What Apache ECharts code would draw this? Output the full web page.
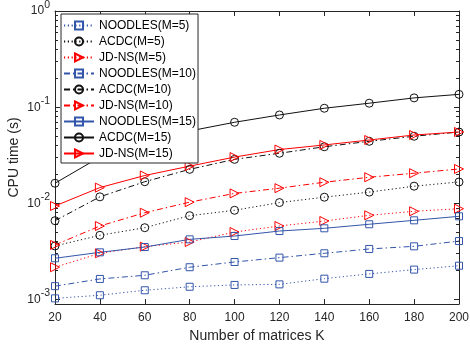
<!DOCTYPE html>
<html><head><meta charset="utf-8">
<script src="https://cdn.jsdelivr.net/npm/echarts@6/dist/echarts.min.js"></script>
<style>html,body{margin:0;padding:0;background:#fff}#c{width:470px;height:351px}</style>
</head><body><div id="c"></div>
<script>
const K = [20, 40, 60, 80, 100, 120, 140, 160, 180, 200];
const noodles5  = [1.03e-3, 1.11e-3, 1.25e-3, 1.36e-3, 1.42e-3, 1.44e-3, 1.65e-3, 1.85e-3, 2.05e-3, 2.25e-3];
const acdc5     = [3.61e-3, 4.66e-3, 5.59e-3, 7.45e-3, 8.48e-3, 1.02e-2, 1.16e-2, 1.31e-2, 1.51e-2, 1.67e-2];
const jdns5     = [2.17e-3, 3.03e-3, 3.55e-3, 3.97e-3, 5.04e-3, 5.82e-3, 6.56e-3, 7.52e-3, 8.28e-3, 8.81e-3];
const noodles10 = [1.38e-3, 1.64e-3, 1.79e-3, 2.17e-3, 2.46e-3, 2.73e-3, 3.03e-3, 3.36e-3, 3.58e-3, 4.06e-3];
const acdc10    = [6.61e-3, 1.17e-2, 1.68e-2, 2.26e-2, 2.87e-2, 3.32e-2, 3.88e-2, 4.42e-2, 4.99e-2, 5.52e-2];
const jdns10    = [3.70e-3, 5.82e-3, 8.00e-3, 1.03e-2, 1.27e-2, 1.44e-2, 1.66e-2, 1.87e-2, 2.06e-2, 2.28e-2];
const noodles15 = [2.69e-3, 3.10e-3, 3.52e-3, 4.23e-3, 4.58e-3, 5.16e-3, 5.51e-3, 6.07e-3, 6.67e-3, 7.34e-3];
const acdc15    = [1.62e-2, 3.03e-2, 4.25e-2, 5.66e-2, 6.97e-2, 8.30e-2, 9.75e-2, 1.10e-1, 1.25e-1, 1.36e-1];
const jdns15    = [9.40e-3, 1.46e-2, 1.95e-2, 2.44e-2, 3.03e-2, 3.63e-2, 4.05e-2, 4.56e-2, 5.14e-2, 5.52e-2];

const names = ['NOODLES(M=5)', 'ACDC(M=5)', 'JD-NS(M=5)', 'NOODLES(M=10)', 'ACDC(M=10)', 'JD-NS(M=10)', 'NOODLES(M=15)', 'ACDC(M=15)', 'JD-NS(M=15)'];
const yMajorTicks = [0.001, 0.01, 0.1, 1];
const yMinorTicks = [0.002, 0.003, 0.004, 0.005, 0.006, 0.007, 0.008, 0.009,
                     0.02, 0.03, 0.04, 0.05, 0.06, 0.07, 0.08, 0.09,
                     0.2, 0.3, 0.4, 0.5, 0.6, 0.7, 0.8, 0.9];
const yMin = 0.0009, yMax = 1;

const FONT = 'Liberation Sans';
const AX = '#262626';
const BLUE = '#3355aa', RED = '#ff0000', BLACK = '#111111';
const DOT = [1.2, 2.6], DASHDOT = [6, 3, 1.5, 3], SOLID = 'solid';
const TRI = 'path://M0,0L10,5L0,10Z';

function mk(name, vals, color, symbol, size, dash) {
  return {
    name: name, type: 'line', xAxisIndex: 0, yAxisIndex: 0,
    data: K.map((k, i) => [k, vals[i]]),
    symbol: symbol, symbolSize: size, showSymbol: true,
    lineStyle: { color: color, width: 1, type: dash },
    itemStyle: { color: 'none', borderColor: color, borderWidth: 1 },
    emphasis: { disabled: true }, animation: false, z: 2
  };
}

const series = [
  mk(names[0], noodles5, BLUE, 'rect', 7, DOT),
  mk(names[1], acdc5, BLACK, 'circle', 8, DOT),
  mk(names[2], jdns5, RED, TRI, 9, DOT),
  mk(names[3], noodles10, BLUE, 'rect', 7, DASHDOT),
  mk(names[4], acdc10, BLACK, 'circle', 8, DASHDOT),
  mk(names[5], jdns10, RED, TRI, 9, DASHDOT),
  mk(names[6], noodles15, BLUE, 'rect', 7, SOLID),
  mk(names[7], acdc15, BLACK, 'circle', 8, SOLID),
  mk(names[8], jdns15, RED, TRI, 9, SOLID)
];

const gridRect = { left: 55, right: 11, top: 11, bottom: 47, containLabel: false, outerBoundsMode: 'none' };
const axLine = { show: true, lineStyle: { color: AX, width: 1 } };

function yAx(grid, pos, ticks, len, labels) {
  const a = {
    gridIndex: grid, type: 'log', logBase: 10, min: yMin, max: yMax, position: pos,
    axisLine: axLine,
    axisTick: { show: true, inside: true, length: len, customValues: ticks, lineStyle: { color: AX, width: 1 } },
    axisLabel: { show: false },
    splitLine: { show: false }, minorTick: { show: false }
  };
  if (labels) {
    a.axisLabel = {
      show: true, customValues: yMajorTicks, margin: 5,
      formatter: v => '{b|10}{s|' + Math.round(Math.log10(v)) + '}',
      rich: {
        b: { fontSize: 12, fontFamily: FONT, color: AX },
        s: { fontSize: 10.5, fontFamily: FONT, color: AX, lineHeight: 10, padding: [0, 0, 12, 0] }
      }
    };
    a.name = 'CPU time (s)';
    a.nameLocation = 'middle';
    a.nameGap = 34;
    a.nameMoveOverlap = false;
    a.nameTextStyle = { fontSize: 14, fontFamily: FONT, color: AX };
  }
  return a;
}

function xAx(grid, pos, show, labels) {
  const a = {
    gridIndex: grid, type: 'value', min: 20, max: 200, interval: 20, position: pos, show: show,
    axisLine: axLine,
    axisTick: { show: true, inside: true, length: 5, lineStyle: { color: AX, width: 1 } },
    axisLabel: { show: false },
    splitLine: { show: false }
  };
  if (labels) {
    a.axisLabel = { show: true, margin: 8, fontSize: 12, fontFamily: FONT, color: AX };
    a.name = 'Number of matrices K';
    a.nameLocation = 'middle';
    a.nameGap = 25;
    a.nameMoveOverlap = false;
    a.nameTextStyle = { fontSize: 14, fontFamily: FONT, color: AX };
  }
  return a;
}

const chart = echarts.init(document.getElementById('c'), null, { renderer: 'canvas' });
chart.setOption({
  animation: false,
  backgroundColor: '#fff',
  grid: [Object.assign({}, gridRect), Object.assign({}, gridRect)],
  xAxis: [xAx(0, 'bottom', true, true), xAx(0, 'top', true, false), xAx(1, 'bottom', false, false)],
  yAxis: [
    yAx(0, 'left', yMajorTicks, 5, true),
    yAx(0, 'right', yMajorTicks, 5, false),
    Object.assign(yAx(1, 'left', yMinorTicks, 3, false), { axisLine: { show: false } }),
    Object.assign(yAx(1, 'right', yMinorTicks, 3, false), { axisLine: { show: false } })
  ],
  legend: {
    data: names, orient: 'vertical', left: 61, top: 14,
    padding: [5, 2, 3, 2], itemWidth: 30, itemHeight: 10, itemGap: 3,
    backgroundColor: '#fff', borderColor: AX, borderWidth: 1,
    textStyle: { fontSize: 12, lineHeight: 12, fontFamily: FONT, color: '#000' },
    selectedMode: false, z: 10
  },
  series: series
});
</script>
</body></html>
